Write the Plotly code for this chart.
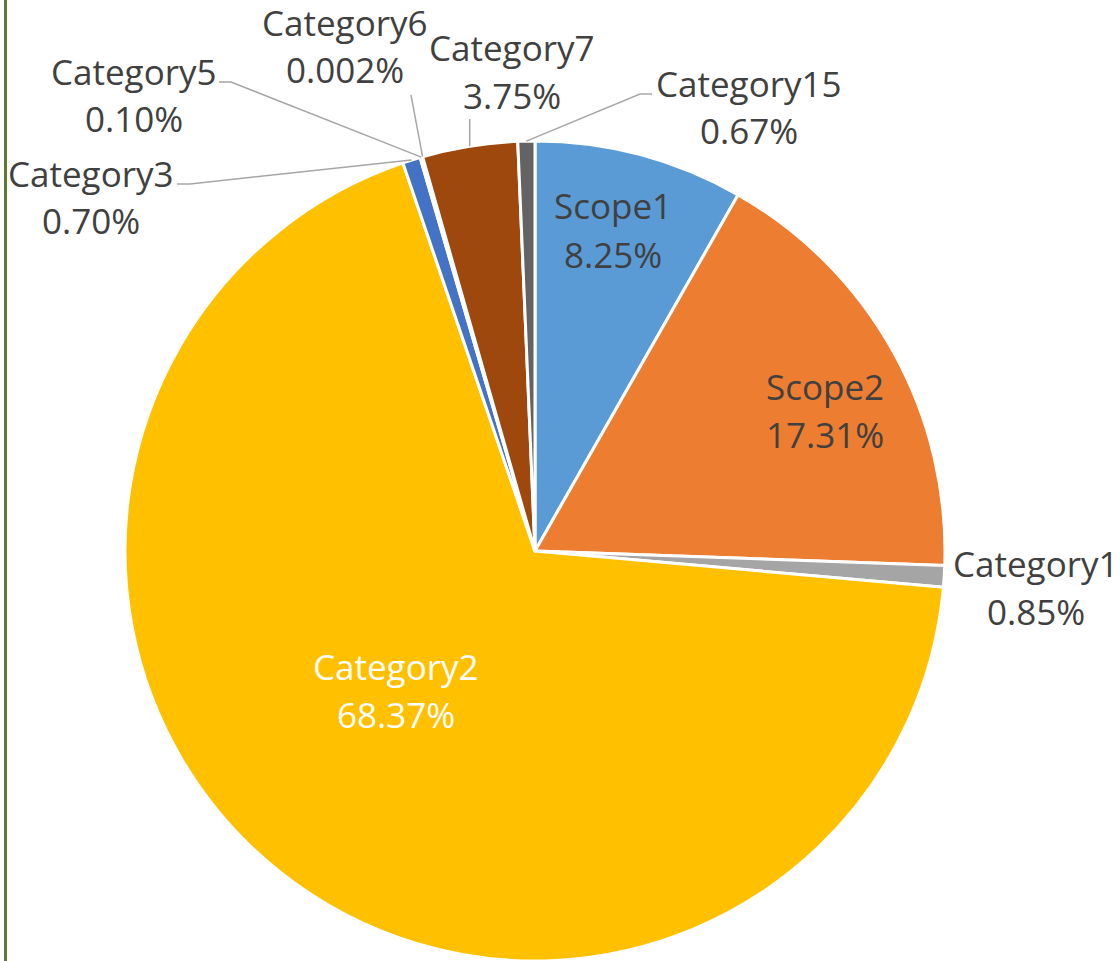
import math
import plotly.graph_objects as go

# ---- data ----
names = ["Scope1", "Scope2", "Category1", "Category2", "Category3",
         "Category5", "Category6", "Category7", "Category15"]
values = [8.25, 17.31, 0.85, 68.37, 0.70, 0.10, 0.002, 3.75, 0.67]
pct_labels = ["8.25%", "17.31%", "0.85%", "68.37%", "0.70%",
              "0.10%", "0.002%", "3.75%", "0.67%"]
colors = ["#5B9BD5", "#ED7D31", "#A5A5A5", "#FFC000", "#4472C4",
          "#70AD47", "#255E91", "#9E480E", "#636363"]

# ---- layout / styling ----
W, H = 1120, 961
CX, R = 535, 410
CY = H - R
FONT = "Open Sans"
FS = 35
TXT = "#404040"
text_colors = [TXT, TXT, TXT, "#FFFFFF", TXT, TXT, TXT, TXT, TXT]
# label block centres (pixels)
label_xy = [(613, 230), (825, 410), (1036, 587), (396, 690), (91, 197),
            (134, 95), (345, 46), (512, 71), (749, 107)]
LINE_GAP = 48
# leader line points on the label side (pixels); final point on the pie edge
leaders = {
    "Category3": [(177, 184), (190, 184)],
    "Category5": [(219, 82), (231, 82)],
    "Category6": [(411, 95)],
    "Category7": [(None, 119)],
    "Category15": [(652, 94), (640, 94)],
}


def px(x):
    return x / W


def py(y):
    return 1 - y / H


fig = go.Figure(go.Pie(
    labels=names, values=values, sort=False, direction="clockwise", rotation=0,
    marker=dict(colors=colors, line=dict(color="white", width=3)),
    textinfo="none", hoverinfo="label+percent", showlegend=False,
    domain=dict(x=[(CX - R) / W, (CX + R) / W], y=[0, 2 * R / H]),
))

annotations = []
for name, pct, (lx, ly), tc in zip(names, pct_labels, label_xy, text_colors):
    for txt, dy in ((name, -LINE_GAP / 2), (pct, LINE_GAP / 2)):
        annotations.append(dict(
            x=px(lx), y=py(ly + dy), xref="paper", yref="paper",
            text=txt, showarrow=False, xanchor="center", yanchor="middle",
            font=dict(family=FONT, size=FS, color=tc)))

total = sum(values)
shapes = []
cum = 0.0
for name, v in zip(names, values):
    mid = (cum + v / 2) / total * 2 * math.pi
    cum += v
    if name not in leaders:
        continue
    ex = CX + R * math.sin(mid)
    ey = CY - R * math.cos(mid)
    pts = [((ex if x is None else x), y) for x, y in leaders[name]] + [(ex, ey)]
    path = "M " + " L ".join(f"{px(x):.5f},{py(y):.5f}" for x, y in pts)
    shapes.append(dict(type="path", path=path, xref="paper", yref="paper",
                       line=dict(color="#A6A6A6", width=1.5)))

# left border of the chart area
shapes.append(dict(type="line", xref="paper", yref="paper",
                   x0=px(5.5), x1=px(5.5), y0=0, y1=1,
                   line=dict(color="#5B7B2F", width=3)))

fig.update_layout(
    width=W, height=H, margin=dict(l=0, r=0, t=0, b=0),
    paper_bgcolor="white", plot_bgcolor="white",
    annotations=annotations, shapes=shapes,
)

fig.write_html(
    "out.html",
    config={"displayModeBar": False},
    post_script="document.body.style.margin='0';document.body.style.overflow='hidden';",
)
